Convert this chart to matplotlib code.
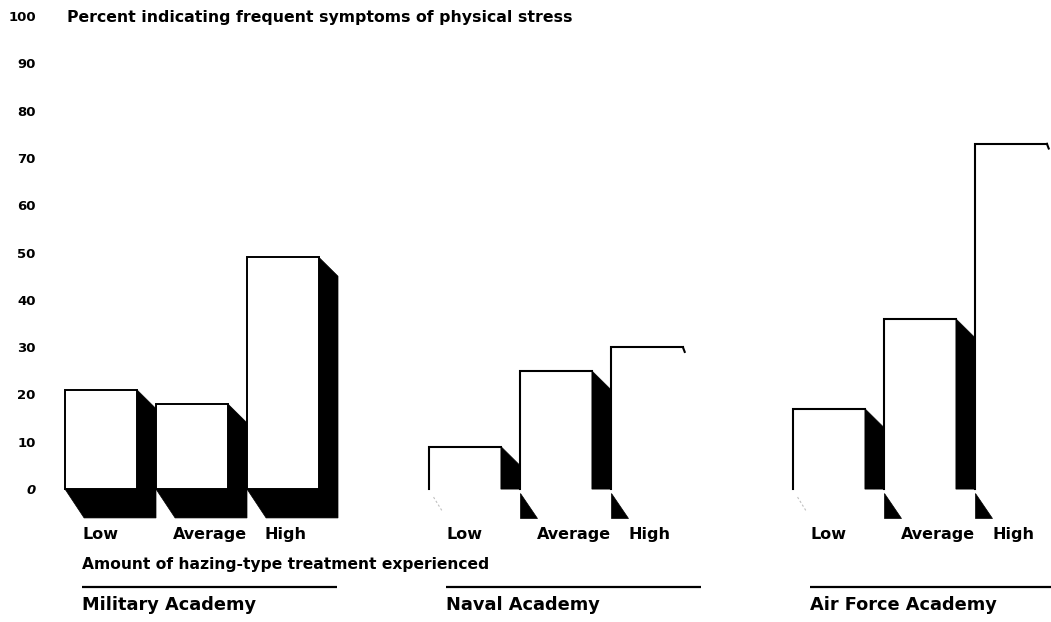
import matplotlib.pyplot as plt
from matplotlib.patches import Polygon, Rectangle

# values (percent)
groups = ["Military Academy", "Naval Academy", "Air Force Academy"]
levels = ["Low", "Average", "High"]
military = [21, 18, 49]
naval = [9, 25, 30]
air_force = [17, 36, 73]
yticks = [0, 10, 20, 30, 40, 50, 60, 70, 80, 90, 100]

title = "Percent indicating frequent symptoms of physical stress"
xlabel = "Amount of hazing-type treatment experienced"

# bar geometry in data units (one bar step = 1)
width = 0.79
dx = 0.21      # depth to the right
dy_side = 4.0  # slant of the side face
dy_base = 6.1  # depth of the bottom face
group_step = 4

plt.rcParams['font.family'] = ['DejaVu Sans']
fig = plt.figure(figsize=(10.51, 6.22), dpi=100)
ax = fig.add_axes([40 / 1051, 0, 1 - 40 / 1051, 1])
ax.set_xlim(-0.2747, 10.835)
ax.set_ylim(-28.1, 103.4)


def solid_bar(x0, h):
    x1 = x0 + width
    shadow = [(x0, 0), (x0 + dx, -dy_base), (x1 + dx, -dy_base),
              (x1 + dx, h - dy_side), (x1, h), (x1, 0)]
    ax.add_patch(Polygon(shadow, closed=True, fc='black', ec='black', lw=0.5))
    ax.add_patch(Rectangle((x0, 0), width, h, fc='white', ec='black', lw=1.4))


def faded_bar(x0, h, i):
    # the scanned copy lost most of the outline/shadow on these panels
    x1 = x0 + width
    ax.plot([x0, x0, x1], [0, h, h], color='black', lw=1.5,
            solid_joinstyle='miter')
    if i < 2:
        side = [(x1, h), (x1 + dx, h - dy_side), (x1 + dx, 0), (x1, 0)]
        ax.add_patch(Polygon(side, closed=True, fc='black', ec='black', lw=0.5))
    else:
        ax.plot([x1, x1 + 0.02], [h, h - 1.0], color='black', lw=1.5)
    if i > 0:
        tri = [(x0, -0.9), (x0, -dy_base), (x0 + 0.19, -dy_base)]
        ax.add_patch(Polygon(tri, closed=True, fc='black', ec='black', lw=0.5))
    else:
        ax.plot([x0 + 0.05, x0 + 0.14], [-1.7, -4.5], color='0.75', lw=0.8,
                ls=(0, (2, 2)))


for g, values in enumerate([military, naval, air_force]):
    base = g * group_step
    for i, v in enumerate(values):
        x0 = base + i
        if g == 0:
            solid_bar(x0, v)
        else:
            faded_bar(x0, v, i)
        ax.text(x0 + 0.19, -9.5, levels[i], fontsize=11.5, fontweight='bold',
                ha='left', va='center')
    # rule and academy name under each panel
    ax.plot([base + 0.19, base + 0.19 + 2.8], [-20.7, -20.7], color='black',
            lw=1.6, solid_capstyle='butt')
    ax.text(base + 0.19, -24.5, groups[g], fontsize=12.8, fontweight='bold',
            ha='left', va='center')

ax.text(0.19, -15.9, xlabel, fontsize=11.2, fontweight='bold',
        ha='left', va='center')
ax.text(0.02, 99.8, title, fontsize=11.3, fontweight='bold', ha='left',
        va='center')

ax.set_yticks(yticks)
ax.set_yticklabels([str(t) for t in yticks], fontsize=9.5, fontweight='bold')
ax.get_yticklabels()[0].set_style('italic')
ax.tick_params(axis='y', length=0, pad=3)
ax.set_xticks([])
for s in ax.spines.values():
    s.set_visible(False)

fig.savefig('out.png', dpi=100)
